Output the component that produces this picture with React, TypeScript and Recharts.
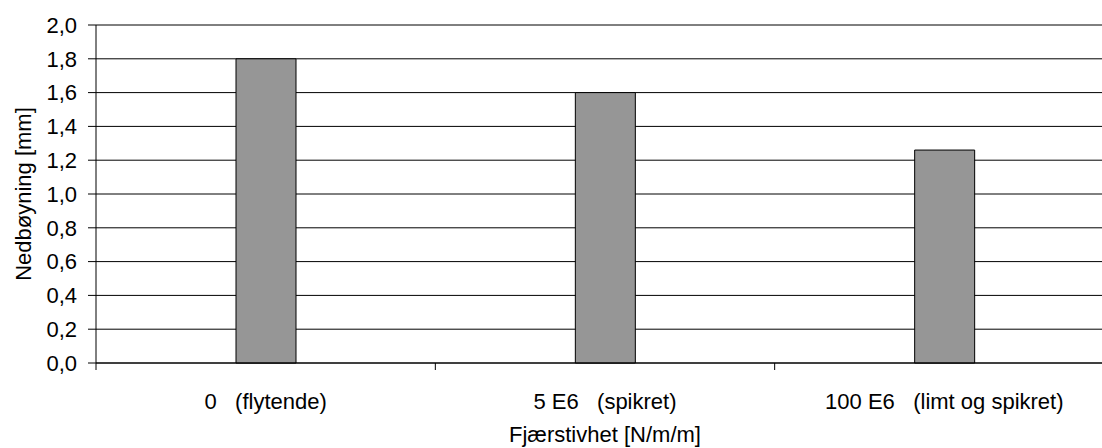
import React from 'react';
import { BarChart, Bar, XAxis, YAxis, CartesianGrid } from 'recharts';

const categories = ['0   (flytende)', '5 E6   (spikret)', '100 E6   (limt og spikret)'];
const deflection = [1.8, 1.6, 1.26];
const yTicks = [0, 0.2, 0.4, 0.6, 0.8, 1.0, 1.2, 1.4, 1.6, 1.8, 2.0];

const data = categories.map((c, i) => ({ name: c, value: deflection[i] }));

const FONT = '"Liberation Sans", Arial, sans-serif';
const FS = 22;

const XTick = (props: any) => {
  const { x, y, payload } = props;
  const half = payload && payload.offset > 0 ? payload.offset : 169.67;
  const left = x - half;
  return (
    <g>
      <line x1={left} y1={y} x2={left} y2={y + 7} stroke="#000" strokeWidth={1} />
      <text
        x={x}
        y={y + 46}
        textAnchor="middle"
        fill="#000"
        fontSize={FS}
        fontFamily={FONT}
        xmlSpace="preserve"
        style={{ whiteSpace: 'pre' }}
      >
        {payload.value}
      </text>
    </g>
  );
};

const YLabel = (props: any) => {
  const vb = props.viewBox || { x: 0, y: 25, width: 96, height: 338 };
  const cx = vb.x + 23;
  const cy = vb.y + vb.height / 2;
  return (
    <text
      x={cx}
      y={cy}
      transform={`rotate(-90 ${cx} ${cy})`}
      textAnchor="middle"
      dominantBaseline="central"
      fill="#000"
      fontSize={FS}
      fontFamily={FONT}
    >
      Nedbøyning [mm]
    </text>
  );
};

export default function App() {
  return (
    <div
      style={{
        position: 'absolute',
        left: 0,
        top: 0,
        width: 1102,
        height: 448,
        overflow: 'hidden',
        background: '#fff',
      }}
    >
      <BarChart
        width={1130}
        height={448}
        data={data}
        margin={{ top: 25, right: 16, bottom: 0, left: 0 }}
        barCategoryGap={0}
      >
        <CartesianGrid vertical={false} stroke="#000" strokeWidth={1} />
        <XAxis
          dataKey="name"
          type="category"
          height={85}
          tickLine={false}
          tickSize={0}
          tickMargin={0}
          axisLine={{ stroke: '#000', strokeWidth: 1 }}
          tick={<XTick />}
          interval={0}
          label={{
            value: 'Fjærstivhet [N/m/m]',
            position: 'insideBottom',
            offset: 6,
            fill: '#000',
            fontSize: FS,
            fontFamily: FONT,
          }}
        />
        <YAxis
          width={96}
          domain={[0, 2]}
          ticks={yTicks}
          interval={0}
          tickSize={8}
          tickMargin={11}
          axisLine={{ stroke: '#000', strokeWidth: 1 }}
          tickLine={{ stroke: '#000', strokeWidth: 1 }}
          tick={{ fill: '#000', fontSize: FS, fontFamily: FONT }}
          tickFormatter={(v: number) => v.toFixed(1).replace('.', ',')}
          label={<YLabel />}
        />
        <Bar
          dataKey="value"
          fill="#969696"
          stroke="#000"
          strokeWidth={1}
          barSize={60}
          isAnimationActive={false}
        />
      </BarChart>
    </div>
  );
}
